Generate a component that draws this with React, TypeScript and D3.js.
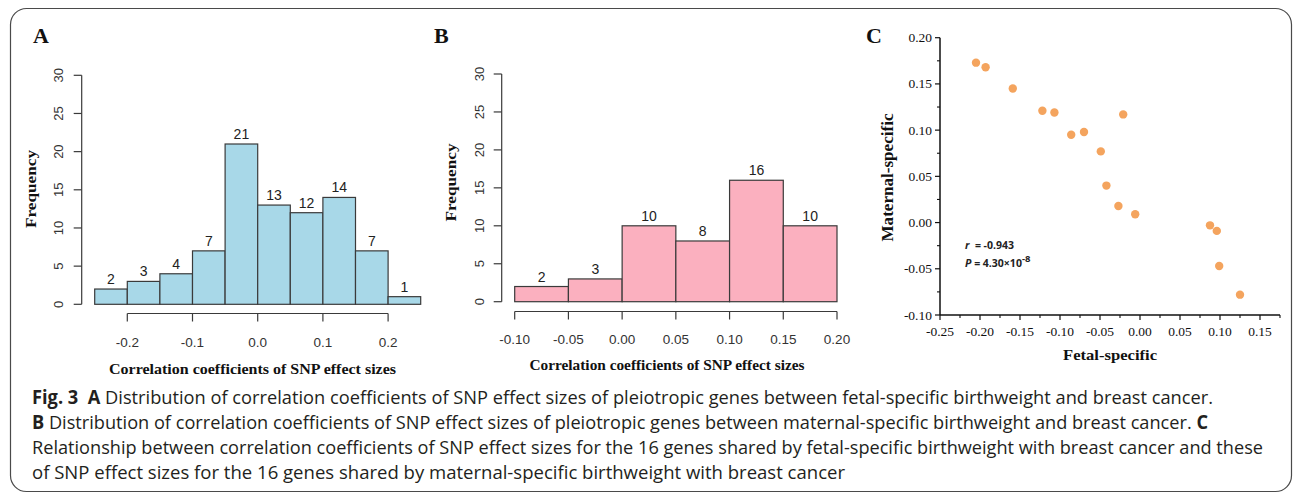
import React from "react";
import * as d3 from "d3";

// ---------- data ----------
const binEdgesA = [-0.25, -0.2, -0.15, -0.1, -0.05, 0.0, 0.05, 0.1, 0.15, 0.2, 0.25];
const countsA = [2, 3, 4, 7, 21, 13, 12, 14, 7, 1];
const xTicksA = [-0.2, -0.1, 0.0, 0.1, 0.2];
const xTickLabelsA = ["-0.2", "-0.1", "0.0", "0.1", "0.2"];

const binEdgesB = [-0.1, -0.05, 0.0, 0.05, 0.1, 0.15, 0.2];
const countsB = [2, 3, 10, 8, 16, 10];
const xTicksB = [-0.1, -0.05, 0.0, 0.05, 0.1, 0.15, 0.2];
const xTickLabelsB = ["-0.10", "-0.05", "0.00", "0.05", "0.10", "0.15", "0.20"];

const freqTicks = [0, 5, 10, 15, 20, 25, 30];

const fetalSpecific = [-0.205, -0.193, -0.159, -0.122, -0.107, -0.021, -0.086, -0.07, -0.049, -0.042, -0.027, -0.006, 0.0875, 0.096, 0.099, 0.125];
const maternalSpecific = [0.173, 0.168, 0.145, 0.121, 0.119, 0.117, 0.095, 0.098, 0.077, 0.04, 0.018, 0.009, -0.003, -0.009, -0.047, -0.078];
const cXTicks = [-0.25, -0.2, -0.15, -0.1, -0.05, 0.0, 0.05, 0.1, 0.15];
const cXMinor = [-0.225, -0.175, -0.125, -0.075, -0.025, 0.025, 0.075, 0.125, 0.175];
const cYTicks = [-0.1, -0.05, 0.0, 0.05, 0.1, 0.15, 0.2];
const cYMinor = [-0.075, -0.025, 0.025, 0.075, 0.125, 0.175];

const captionLines = [
  [["Fig. 3", true], ["  ", false], ["A", true], [" Distribution of correlation coefficients of SNP effect sizes of pleiotropic genes between fetal-specific birthweight and breast cancer.", false]],
  [["B", true], [" Distribution of correlation coefficients of SNP effect sizes of pleiotropic genes between maternal-specific birthweight and breast cancer. ", false], ["C", true]],
  [["Relationship between correlation coefficients of SNP effect sizes for the 16 genes shared by fetal-specific birthweight with breast cancer and these", false]],
  [["of SNP effect sizes for the 16 genes shared by maternal-specific birthweight with breast cancer", false]],
];

const SERIF = "'Liberation Serif', 'Times New Roman', serif";
const SANS = "'Liberation Sans', Arial, sans-serif";
const AXIS = "#3a3a3a";

type HistProps = {
  edges: number[];
  counts: number[];
  ticks: number[];
  tickLabels: string[];
  x0: number; x1: number; yBottom: number; yTop: number;
  yAxisX: number; xAxisY: number;
  tickLabelY: number; yLabelX: number;
  color: string;
  panel: string; panelX: number;
  freqX: number; freqY: number;
  xLabelX: number; xLabelY: number; xLabelLen: number;
};

function Histogram(p: HistProps) {
  const x = d3.scaleLinear().domain([p.edges[0], p.edges[p.edges.length - 1]]).range([p.x0, p.x1]);
  const y = d3.scaleLinear().domain([0, 30]).range([p.yBottom, p.yTop]);
  return (
    <g>
      <text x={p.panelX} y={43} fontFamily={SERIF} fontWeight="bold" fontSize={22} fill="#111">{p.panel}</text>
      {/* y axis */}
      <line x1={p.yAxisX} x2={p.yAxisX} y1={y(0)} y2={y(30)} stroke={AXIS} strokeWidth={1.2} />
      {freqTicks.map((t) => (
        <g key={t}>
          <line x1={p.yAxisX - 8} x2={p.yAxisX} y1={y(t)} y2={y(t)} stroke={AXIS} strokeWidth={1.2} />
          <text transform={`translate(${p.yLabelX},${y(t)}) rotate(-90)`} textAnchor="middle" fontFamily={SANS} fontSize={13} fill="#333">{t}</text>
        </g>
      ))}
      <text transform={`translate(${p.freqX},${p.freqY}) rotate(-90)`} textAnchor="middle" fontFamily={SERIF} fontWeight="bold" fontSize={15} textLength={78} lengthAdjust="spacingAndGlyphs" fill="#111">Frequency</text>
      {/* bars */}
      {p.counts.map((c, i) => (
        <g key={i}>
          <rect x={x(p.edges[i])} y={y(c)} width={x(p.edges[i + 1]) - x(p.edges[i])} height={y(0) - y(c)} fill={p.color} stroke={AXIS} strokeWidth={1.2} />
          <text x={(x(p.edges[i]) + x(p.edges[i + 1])) / 2} y={y(c) - 5} textAnchor="middle" fontFamily={SANS} fontSize={14} fill="#222">{c}</text>
        </g>
      ))}
      {/* x axis */}
      <line x1={x(p.ticks[0])} x2={x(p.ticks[p.ticks.length - 1])} y1={p.xAxisY} y2={p.xAxisY} stroke={AXIS} strokeWidth={1.2} />
      {p.ticks.map((t, i) => (
        <g key={t}>
          <line x1={x(t)} x2={x(t)} y1={p.xAxisY} y2={p.xAxisY + 8} stroke={AXIS} strokeWidth={1.2} />
          <text x={x(t)} y={p.tickLabelY} textAnchor="middle" fontFamily={SANS} fontSize={13.5} fill="#333">{p.tickLabels[i]}</text>
        </g>
      ))}
      <text x={p.xLabelX} y={p.xLabelY} textAnchor="middle" fontFamily={SERIF} fontWeight="bold" fontSize={14} textLength={p.xLabelLen} lengthAdjust="spacingAndGlyphs" fill="#111">Correlation coefficients of SNP effect sizes</text>
    </g>
  );
}

function Scatter() {
  const x = d3.scaleLinear().domain([-0.25, 0.175]).range([940, 1280]);
  const y = d3.scaleLinear().domain([-0.1, 0.2]).range([315, 37.7]);
  const fmt = d3.format(".2f");
  return (
    <g>
      <text x={866} y={43} fontFamily={SERIF} fontWeight="bold" fontSize={22} fill="#111">C</text>
      <line x1={x(-0.25)} x2={x(-0.25)} y1={y(-0.1)} y2={y(0.2)} stroke="#111" strokeWidth={1.5} />
      <line x1={x(-0.25)} x2={x(0.175)} y1={y(-0.1)} y2={y(-0.1)} stroke="#111" strokeWidth={1.5} />
      {cYTicks.map((t) => (
        <g key={t}>
          <line x1={x(-0.25) - 5} x2={x(-0.25)} y1={y(t)} y2={y(t)} stroke="#111" strokeWidth={1.2} />
          <text x={932} y={y(t) + 4.5} textAnchor="end" fontFamily={SERIF} fontSize={13.5} fill="#111">{fmt(t).replace("−", "-")}</text>
        </g>
      ))}
      {cYMinor.map((t) => (
        <line key={t} x1={x(-0.25) - 3} x2={x(-0.25)} y1={y(t)} y2={y(t)} stroke="#111" strokeWidth={1.1} />
      ))}
      {cXTicks.map((t) => (
        <g key={t}>
          <line x1={x(t)} x2={x(t)} y1={y(-0.1)} y2={y(-0.1) + 5} stroke="#111" strokeWidth={1.2} />
          <text x={x(t)} y={336} textAnchor="middle" fontFamily={SERIF} fontSize={13.5} fill="#111">{fmt(t).replace("−", "-")}</text>
        </g>
      ))}
      {cXMinor.map((t) => (
        <line key={t} x1={x(t)} x2={x(t)} y1={y(-0.1)} y2={y(-0.1) + 3} stroke="#111" strokeWidth={1.1} />
      ))}
      {fetalSpecific.map((v, i) => (
        <circle key={i} cx={x(v)} cy={y(maternalSpecific[i])} r={4.2} fill="#f4a45e" />
      ))}
      <text transform="translate(893,177.5) rotate(-90)" textAnchor="middle" fontFamily={SERIF} fontWeight="bold" fontSize={16} textLength={128} lengthAdjust="spacingAndGlyphs" fill="#111">Maternal-specific</text>
      <text x={1110} y={360} textAnchor="middle" fontFamily={SERIF} fontWeight="bold" fontSize={15} textLength={94} lengthAdjust="spacingAndGlyphs" fill="#111">Fetal-specific</text>
      <text x={965} y={249.3} fontFamily={"'Open Sans', sans-serif"} fontWeight="bold" fontSize={10.5} fill="#222" style={{ whiteSpace: "pre" }}>
        <tspan fontStyle="italic">r</tspan>
        <tspan>{"  = -0.943"}</tspan>
      </text>
      <text x={965} y={266.7} fontFamily={"'Open Sans', sans-serif"} fontWeight="bold" fontSize={10.5} fill="#222" style={{ whiteSpace: "pre" }}>
        <tspan fontStyle="italic">P</tspan>
        <tspan>{" = 4.30×10"}</tspan>
        <tspan dy={-5} fontSize={9.5}>-8</tspan>
      </text>
    </g>
  );
}

const captionBaselines = [404, 429, 454, 479];
const captionEnds = [1213, 1208, 1263, 845];

export default function App() {
  return (
    <svg width={1293} height={494} style={{ position: "absolute", left: 0, top: 0, background: "#fff" }}>
      <rect x={0} y={0} width={1293} height={494} fill="#fff" />
      <rect x={10.5} y={8.5} width={1281} height={483} rx={16} ry={16} fill="none" stroke="#4a4a4a" strokeWidth={1.2} />
      <Histogram
        edges={binEdgesA} counts={countsA} ticks={xTicksA} tickLabels={xTickLabelsA}
        x0={94.7} x1={420.7} yBottom={304.3} yTop={75.3}
        yAxisX={81.7} xAxisY={313.5} tickLabelY={347} yLabelX={63}
        color="#a8d8e8" panel="A" panelX={33}
        freqX={35.5} freqY={189} xLabelX={252.5} xLabelY={374} xLabelLen={287}
      />
      <Histogram
        edges={binEdgesB} counts={countsB} ticks={xTicksB} tickLabels={xTickLabelsB}
        x0={514.7} x1={837} yBottom={301.7} yTop={74}
        yAxisX={501.7} xAxisY={311.5} tickLabelY={344} yLabelX={483.5}
        color="#fbb0bf" panel="B" panelX={434}
        freqX={456} freqY={182.5} xLabelX={667} xLabelY={370} xLabelLen={275}
      />
      <Scatter />
      {captionLines.map((line, li) => (
        <text key={li} x={32} y={captionBaselines[li]} fontFamily={"'Open Sans', sans-serif"} fontSize={19} fill="#231f20"
          textLength={captionEnds[li] - 32} lengthAdjust="spacingAndGlyphs" style={{ whiteSpace: "pre" }}>
          {line.map(([s, b], k) => (
            <tspan key={k} fontWeight={b ? "bold" : "normal"}>{s as string}</tspan>
          ))}
        </text>
      ))}
    </svg>
  );
}
